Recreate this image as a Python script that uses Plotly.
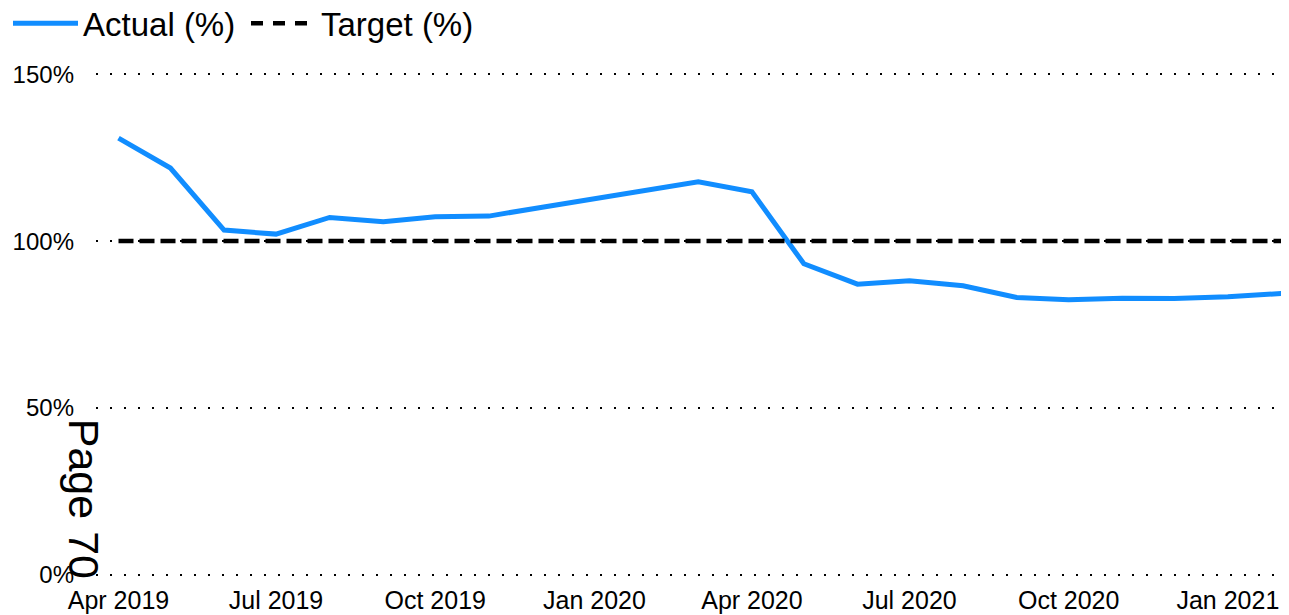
import plotly.graph_objects as go

months = ["2019-04-01", "2019-05-01", "2019-06-01", "2019-07-01", "2019-08-01", "2019-09-01",
          "2019-10-01", "2019-11-01", "2019-12-01", "2020-01-01", "2020-02-01", "2020-03-01",
          "2020-04-01", "2020-05-01", "2020-06-01", "2020-07-01", "2020-08-01", "2020-09-01",
          "2020-10-01", "2020-11-01", "2020-12-01", "2021-01-01", "2021-02-01"]
actual = [130.9, 121.9, 103.3, 102.1, 107.1, 105.8, 107.3, 107.5, 110.1, 112.7, 115.2, 117.8,
          114.8, 93.2, 87.1, 88.1, 86.6, 83.1, 82.4, 82.9, 82.8, 83.3, 84.3]
target = [100] * len(months)
tick_vals = ["2019-04-01", "2019-07-01", "2019-10-01", "2020-01-01", "2020-04-01",
             "2020-07-01", "2020-10-01", "2021-01-01"]
tick_text = ["Apr 2019", "Jul 2019", "Oct 2019", "Jan 2020", "Apr 2020", "Jul 2020",
             "Oct 2020", "Jan 2021"]
y_ticks = [0, 50, 100, 150]
y_labels = ["0%", "50%", "100%", "150%"]

fig = go.Figure()
fig.add_trace(go.Scatter(x=months, y=actual, mode="lines", name="Actual (%)",
                         line=dict(color="#118DFF", width=5)))
fig.add_trace(go.Scatter(x=months, y=target, mode="lines", name="Target (%)",
                         showlegend=False, legendgroup="target",
                         line=dict(color="#000000", width=4.5, dash="15px,6px")))
# legend entry for the target line (same series, legend symbol only)
fig.add_trace(go.Scatter(x=[None], y=[None], mode="lines", name="Target (%)",
                         legendgroup="target",
                         line=dict(color="#000000", width=4.5, dash="12px,10px")))

fig.update_layout(
    width=1281, height=607,
    margin=dict(l=88, r=4, t=62.66, b=36.66, autoexpand=False),
    paper_bgcolor="white", plot_bgcolor="white",
    font=dict(family="Liberation Sans, Arial", color="#000000"),
    showlegend=True,
    legend=dict(orientation="h", x=-0.0034, y=1.0939, xref="container", yref="paper",
                xanchor="left", yanchor="middle", font=dict(size=33),
                itemwidth=65, entrywidth=158, tracegroupgap=0,
                bgcolor="rgba(0,0,0,0)"),
    xaxis=dict(type="date", range=["2019-03-19", "2021-02-03"], tickvals=tick_vals,
               ticktext=tick_text, showgrid=False, zeroline=False, showline=False,
               tickfont=dict(size=25), ticks="", ticklabelstandoff=5),
    yaxis=dict(range=[-1, 151], tickvals=y_ticks, ticktext=y_labels, showgrid=True,
               gridcolor="#000000", gridwidth=2, griddash="2px,12px", zeroline=False,
               showline=False, tickfont=dict(size=24), ticks="", ticklabelstandoff=21),
    annotations=[dict(text="Page 70", xref="paper", yref="paper", x=-0.0101, y=0.1563,
                      showarrow=False, textangle=90, font=dict(size=43, color="#000000"),
                      xanchor="center", yanchor="middle")],
)

fig.write_html("out.html")
